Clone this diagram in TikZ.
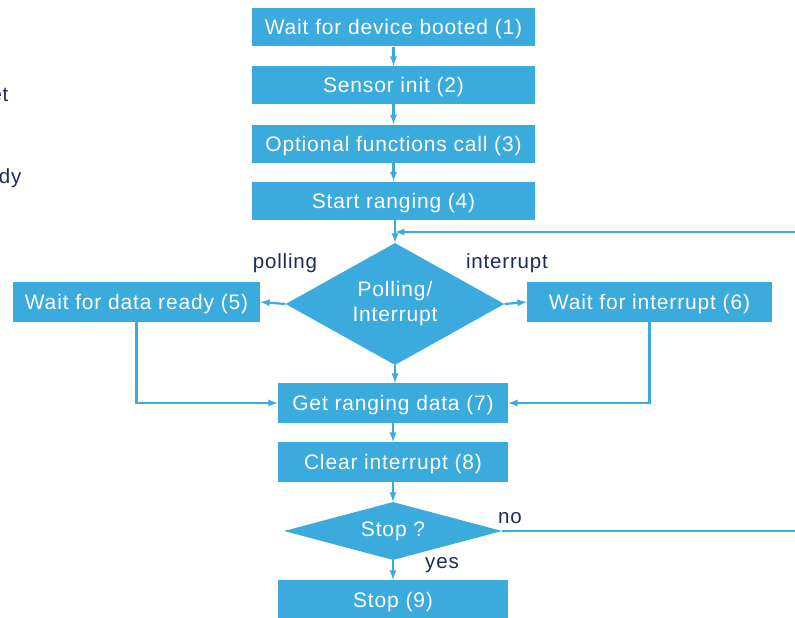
\documentclass[tikz,border=0pt]{standalone}
\usepackage{fontspec}
\setmainfont{Liberation Sans}
\newfontfamily\spaced[LetterSpace=4]{Liberation Sans}
\usepackage{tikz}
\usetikzlibrary{shapes,arrows}
\definecolor{boxblue}{RGB}{59,170,220}
\definecolor{navy}{RGB}{30,42,85}

\begin{document}
\begin{tikzpicture}[x=1pt,y=-1pt,
                every path/.style={>=latex},
                conn/.style={draw=boxblue,line width=2.2pt},
                box/.style={rectangle,fill=boxblue,draw=none,text=white,minimum height=38pt,inner sep=0pt,text height=15pt,text depth=0pt,font=\spaced\fontsize{21}{25}\selectfont},
                decision/.style={diamond,fill=boxblue,draw=none,text=white,inner sep=0pt,aspect=3,align=center,font=\spaced\fontsize{21}{25}\selectfont},
                lbl/.style={text=navy,font=\spaced\fontsize{20.5}{24}\selectfont}]
  \clip (0,0) rectangle (795,618);
  % left-over text at the edge
  \node[lbl,anchor=east] (cutA) at (12,95)  {et};
  \node[lbl,anchor=east] (cutB) at (25,178) {dy};
  % main column
  \node[box,minimum width=283pt] (boot)  at (393.5,27.5) {Wait for device booted (1)};
  \node[box,minimum width=283pt] (init)  at (393.5,85)   {Sensor init (2)};
  \node[box,minimum width=283pt] (opt)   at (393.5,143.5){Optional functions call (3)};
  \node[box,minimum width=283pt] (start) at (393.5,200.5){Start ranging (4)};
  \node[decision,minimum width=217pt,minimum height=122pt] (mode) at (395,304) {Polling/\\Interrupt};
  \node[box,minimum width=247pt,minimum height=40pt] (poll) at (136.5,302) {Wait for data ready (5)};
  \node[box,minimum width=245pt,minimum height=40pt] (irq)  at (649.5,302) {Wait for interrupt (6)};
  \node[box,minimum width=230pt,minimum height=40pt] (get)  at (393,403)  {Get ranging data (7)};
  \node[box,minimum width=230pt,minimum height=40pt] (clr)  at (393,462)  {Clear interrupt (8)};
  \node[decision,minimum width=218pt,minimum height=58pt] (stop) at (393,531) {Stop ?};
  \node[box,minimum width=230pt,minimum height=40pt] (end)  at (393,600)  {Stop (9)};
  \coordinate (loopin)  at (795,232);
  \coordinate (loopout) at (795,531);
  \coordinate (join)    at (395,232);
  % labels
  \node[lbl] (lpoll) at (285,263) {polling};
  \node[lbl] (lirq)  at (507,263) {interrupt};
  \node[lbl] (lno)   at (510,518) {no};
  \node[lbl] (lyes)  at (442,565) {yes};
  % connectors
  \draw[conn,->] (boot) -- (init);
  \draw[conn,->] (init) -- (opt);
  \draw[conn,->] (opt) -- (start);
  \draw[conn,->] (start.south -| mode.north) -- (mode.north);
  \draw[conn,->] (loopin) -- (join);
  \draw[conn,->] (mode.west) -- (poll.east);
  \draw[conn,->] (mode.east) -- (irq.west);
  \draw[conn,->] (mode.south) -- (mode.south |- get.north);
  \draw[conn,->] (poll.south) |- (get.west);
  \draw[conn,->] (irq.south) |- (get.east);
  \draw[conn,->] (get) -- (clr);
  \draw[conn,->] (clr) -- (stop);
  \draw[conn,->] (stop) -- (end);
  \draw[conn] (stop.east) -- (loopout);
\end{tikzpicture}
\end{document}
